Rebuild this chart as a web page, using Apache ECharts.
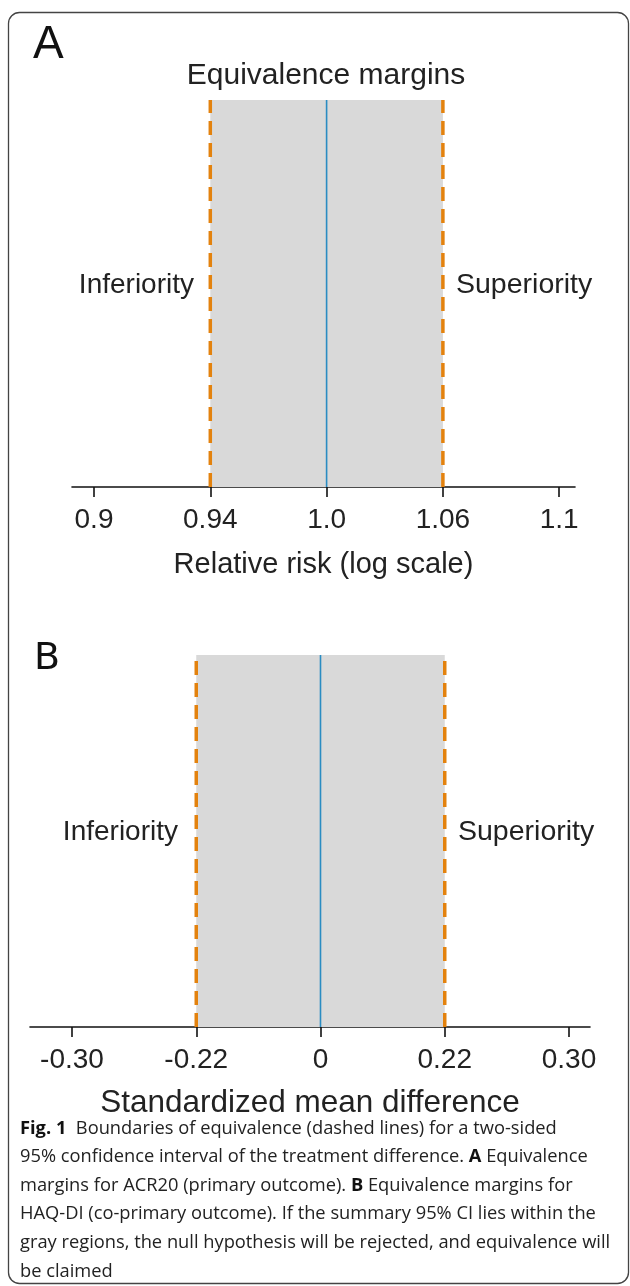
<!DOCTYPE html>
<html><head><meta charset="utf-8">
<script src="https://cdn.jsdelivr.net/npm/echarts@6/dist/echarts.min.js"></script>
<style>html,body{margin:0;padding:0;background:#fff}#c{width:630px;height:1286px}</style>
</head><body><div id="c"></div>
<script>
// Panel A data
var tickLabelsA = ['0.9', '0.94', '1.0', '1.06', '1.1'];
var marginsA = ['0.94', '1.06'];
var nullA = '1.0';
// Panel B data
var tickLabelsB = ['-0.30', '-0.22', '0', '0.22', '0.30'];
var marginsB = ['-0.22', '0.22'];
var nullB = '0';

var ORANGE = '#E3820E', BLUE = '#2A8CC2', GRAY = '#D9D9D9';
var FONT = 'Liberation Sans';

function pos(labels, v) { return labels.indexOf(v); }

function panelSeries(idx, labels, margins, nul) {
  var lo = pos(labels, margins[0]), hi = pos(labels, margins[1]), c = pos(labels, nul);
  return [
    { type: 'line', xAxisIndex: idx, yAxisIndex: idx, data: [[lo, 1], [hi, 1]], symbol: 'none',
      lineStyle: { width: 0 }, areaStyle: { color: GRAY, opacity: 1 }, silent: true, z: 1 },
    { type: 'line', xAxisIndex: idx, yAxisIndex: idx, data: [[lo, 0], [lo, 1]], symbol: 'none',
      lineStyle: { color: ORANGE, width: 3.5, type: [14, 8] }, z: 3 },
    { type: 'line', xAxisIndex: idx, yAxisIndex: idx, data: [[hi, 0], [hi, 1]], symbol: 'none',
      lineStyle: { color: ORANGE, width: 3.5, type: [14, 8] }, z: 3 },
    { type: 'line', xAxisIndex: idx, yAxisIndex: idx, data: [[c, 0], [c, 1]], symbol: 'none',
      lineStyle: { color: BLUE, width: 1.6 }, z: 2 }
  ];
}

function xAxisFor(idx, labels, min, max, name, nameSize, nameGap) {
  var vals = labels.map(function (l, i) { return i; });
  return {
    type: 'value', gridIndex: idx, min: min, max: max,
    splitLine: { show: false },
    axisLine: { show: true, onZero: false, lineStyle: { color: '#111', width: 1.6 } },
    axisTick: { show: true, customValues: vals, length: 10, lineStyle: { color: '#111', width: 1.6 } },
    axisLabel: { customValues: vals, formatter: function (v) { return labels[Math.round(v)]; },
      fontFamily: FONT, fontSize: 28, color: '#222', margin: 19 },
    name: name, nameLocation: 'middle', nameGap: nameGap,
    nameTextStyle: { fontFamily: FONT, fontSize: nameSize, color: '#222' }
  };
}

var chart = echarts.init(document.getElementById('c'), null, { renderer: 'canvas' });
var unitA = 116.3, unitB = 124.25;
chart.setOption({
  animation: false,
  grid: [
    { left: 72, width: 503, top: 100, height: 387 },
    { left: 30, width: 560, top: 655, height: 372 }
  ],
  xAxis: [
    xAxisFor(0, tickLabelsA, -22 / unitA, -22 / unitA + 503 / unitA, 'Relative risk (log scale)', 29, 63),
    xAxisFor(1, tickLabelsB, -42 / unitB, -42 / unitB + 560 / unitB, 'Standardized mean difference', 31.5, 60)
  ],
  yAxis: [
    { type: 'value', gridIndex: 0, min: 0, max: 1, show: false },
    { type: 'value', gridIndex: 1, min: 0, max: 1, show: false }
  ],
  series: panelSeries(0, tickLabelsA, marginsA, nullA).concat(panelSeries(1, tickLabelsB, marginsB, nullB)),
  graphic: [
    { type: 'rect', shape: { x: 8.5, y: 12.5, width: 620, height: 1271, r: 11 },
      style: { fill: 'none', stroke: '#444', lineWidth: 1.3 }, z: 100 },
    { type: 'text', style: { x: 33, y: 45, text: 'A', font: '46px "Liberation Sans"', fill: '#111', verticalAlign: 'middle' } },
    { type: 'text', style: { x: 326, y: 76, text: 'Equivalence margins', font: '30px "Liberation Sans"', fill: '#222', align: 'center', verticalAlign: 'middle' } },
    { type: 'text', style: { x: 194, y: 285, text: 'Inferiority', font: '28px "Liberation Sans"', fill: '#222', align: 'right', verticalAlign: 'middle' } },
    { type: 'text', style: { x: 456, y: 285, text: 'Superiority', font: '28.5px "Liberation Sans"', fill: '#222', align: 'left', verticalAlign: 'middle' } },
    { type: 'text', style: { x: 34, y: 659, text: 'B', font: '38px "DejaVu Sans"', fill: '#111', verticalAlign: 'middle' } },
    { type: 'text', style: { x: 178, y: 832, text: 'Inferiority', font: '28px "Liberation Sans"', fill: '#222', align: 'right', verticalAlign: 'middle' } },
    { type: 'text', style: { x: 458, y: 832, text: 'Superiority', font: '28.5px "Liberation Sans"', fill: '#222', align: 'left', verticalAlign: 'middle' } },
    { type: 'text', style: { x: 20, y: 1114, lineHeight: 28.6,
      text: '{b|Fig. 1}  Boundaries of equivalence (dashed lines) for a two-sided\n' +
            '95% confidence interval of the treatment difference. {b|A} Equivalence\n' +
            'margins for ACR20 (primary outcome). {b|B} Equivalence margins for\n' +
            'HAQ-DI (co-primary outcome). If the summary 95% CI lies within the\n' +
            'gray regions, the null hypothesis will be rejected, and equivalence will\n' +
            'be claimed',
      font: '18.3px "Open Sans"', fill: '#222',
      rich: { b: { fontFamily: 'Open Sans', fontWeight: 'bold', fontSize: 18.3, fill: '#111', lineHeight: 28.6 } } } }
  ]
});
</script></body></html>
